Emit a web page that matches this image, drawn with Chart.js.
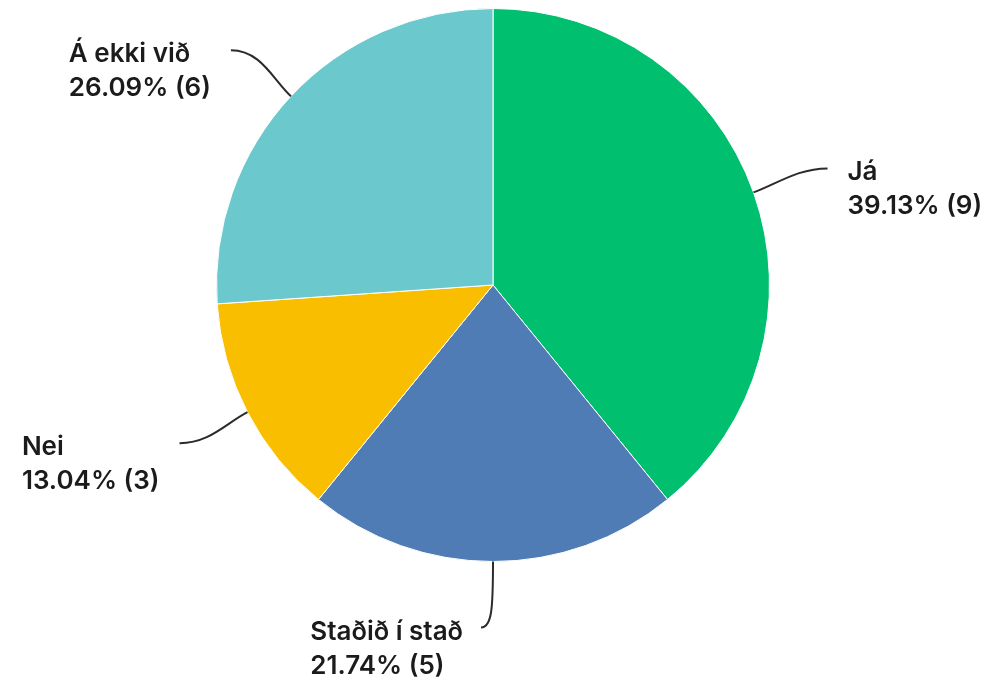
<!DOCTYPE html>
<html>
<head>
<meta charset="utf-8">
<script src="https://cdn.jsdelivr.net/npm/chart.js@4/dist/chart.umd.min.js"></script>
<style>
html,body{margin:0;padding:0;background:#fff;}
#wrap{width:989px;height:681px;position:relative;}
</style>
</head>
<body>
<div id="wrap"><canvas id="c" width="989" height="681"></canvas></div>
<script>
const categories = ["Já", "Staðið í stað", "Nei", "Á ekki við"];
const counts = [9, 5, 3, 6];
const percentLabels = ["39.13%", "21.74%", "13.04%", "26.09%"];
const colors = ["#00BF6F", "#507CB6", "#F9BE00", "#6BC8CD"];

// leader geometry per slice (end offset from slice edge midpoint, label side)
const leaderOffsets = [
  {dx: 74, dy: -24, side: "right"},
  {dx: -12, dy: 66, side: "left"},
  {dx: -68, dy: 31, side: "left"},
  {dx: -60, dy: -46, side: "left"}
];

const FONT = "600 26px Inter, 'Noto Sans', sans-serif";

const labelPlugin = {
  id: "leaderLabels",
  afterDatasetsDraw(chart) {
    const ctx = chart.ctx;
    const meta = chart.getDatasetMeta(0);
    ctx.save();
    meta.data.forEach((arc, i) => {
      const p = arc.getProps(["x","y","startAngle","endAngle","outerRadius"], true);
      const mid = (p.startAngle + p.endAngle) / 2;
      const ex = p.x + Math.cos(mid) * p.outerRadius;
      const ey = p.y + Math.sin(mid) * p.outerRadius;
      const o = leaderOffsets[i];
      const lx = ex + o.dx, ly = ey + o.dy;
      const dirx = Math.cos(mid), diry = Math.sin(mid);
      ctx.strokeStyle = "#2b2b2b";
      ctx.lineWidth = 2;
      ctx.beginPath();
      ctx.moveTo(ex, ey);
      if (Math.abs(dirx) < 0.2) {
        ctx.bezierCurveTo(ex, ly - 20, ex - 1, ly, lx, ly);
      } else {
        const hx = o.side === "right" ? -1 : 1;
        ctx.bezierCurveTo(ex + dirx * 25, ey + diry * 25, lx + hx * 30, ly, lx, ly);
      }
      ctx.stroke();

      const line1 = categories[i];
      const line2 = percentLabels[i] + " (" + counts[i] + ")";
      ctx.font = FONT;
      ctx.fillStyle = "#1b1b1b";
      ctx.textBaseline = "alphabetic";
      ctx.textAlign = "left";
      const w = Math.max(ctx.measureText(line1).width, ctx.measureText(line2).width);
      let tx;
      if (Math.abs(dirx) < 0.2) {
        tx = lx - 18 - ctx.measureText(line1).width;
      } else if (o.side === "right") {
        tx = lx + 20;
      } else {
        tx = lx - 20 - w;
      }
      const base1 = ly + 12;
      ctx.fillText(line1, tx, base1);
      ctx.fillText(line2, tx, base1 + 34);
    });
    ctx.restore();
  }
};

new Chart(document.getElementById("c"), {
  type: "pie",
  data: {
    labels: categories,
    datasets: [{
      data: counts,
      backgroundColor: colors,
      borderColor: "#ffffff",
      borderWidth: 1
    }]
  },
  options: {
    responsive: false,
    animation: false,
    layout: { padding: { top: 7, bottom: 118, left: 216, right: 219 } },
    plugins: {
      legend: { display: false },
      tooltip: { enabled: false }
    }
  },
  plugins: [labelPlugin]
});
</script>
</body>
</html>
